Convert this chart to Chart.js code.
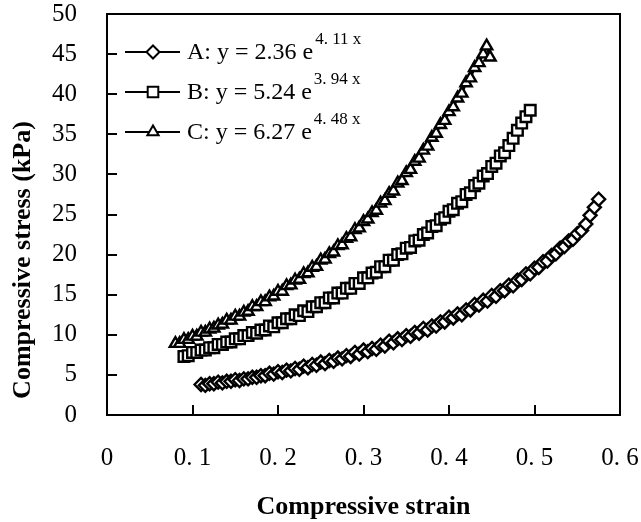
<!DOCTYPE html>
<html>
<head>
<meta charset="utf-8">
<script src="https://cdn.jsdelivr.net/npm/chart.js@4.4.1/dist/chart.umd.min.js"></script>
<style>
  html, body { margin: 0; padding: 0; background: #fff; }
</style>
</head>
<body>
<canvas id="myChart" width="641" height="522"></canvas>
<script>
// sample A (diamonds)
const strainA = [0.11,0.115,0.12,0.125,0.13,0.135,0.14,0.145,0.15,0.155,0.16,0.165,0.17,0.175,0.18,0.185,0.19,0.195,0.20,0.205,
  0.21,0.215,0.22,0.225,0.23,0.235,0.24,0.245,0.25,0.255,0.26,0.265,0.27,0.275,0.28,0.285,0.29,0.295,0.30,0.305,
  0.31,0.315,0.32,0.325,0.33,0.335,0.34,0.345,0.35,0.355,0.36,0.365,0.37,0.375,0.38,0.385,0.39,0.395,0.40,0.405,
  0.41,0.415,0.42,0.425,0.43,0.435,0.44,0.445,0.45,0.455,0.46,0.465,0.47,0.475,0.48,0.485,0.49,0.495,0.50,0.505,
  0.51,0.515,0.52,0.525,0.53,0.535,0.54,0.545,0.55,0.555,0.56,0.565,0.57,0.575];
const stressA = [3.8,3.7,3.9,3.9,4.1,4.0,4.2,4.2,4.4,4.3,4.5,4.5,4.7,4.7,4.9,4.9,5.2,5.1,5.4,5.3,
  5.6,5.5,5.8,5.7,6.1,5.9,6.3,6.2,6.6,6.4,6.8,6.7,7.1,7.0,7.4,7.3,7.8,7.6,8.1,7.9,
  8.3,8.2,8.7,8.6,9.2,9.0,9.5,9.4,9.9,9.8,10.3,10.2,10.8,10.6,11.1,11.1,11.6,11.6,12.2,12.1,
  12.6,12.5,13.1,13.1,13.8,13.7,14.3,14.2,14.9,14.8,15.5,15.5,16.2,16.1,16.8,16.9,17.6,17.6,18.3,18.4,
  19.1,19.2,19.9,20.1,20.8,21.0,21.7,21.9,22.6,23.0,23.8,24.9,25.9,26.9];

// sample B (squares)
const strainB = [0.09,0.095,0.10,0.105,0.11,0.115,0.12,0.125,0.13,0.135,0.14,0.145,0.15,0.155,0.16,0.165,0.17,0.175,0.18,0.185,
  0.19,0.195,0.20,0.205,0.21,0.215,0.22,0.225,0.23,0.235,0.24,0.245,0.25,0.255,0.26,0.265,0.27,0.275,0.28,0.285,
  0.29,0.295,0.30,0.305,0.31,0.315,0.32,0.325,0.33,0.335,0.34,0.345,0.35,0.355,0.36,0.365,0.37,0.375,0.38,0.385,
  0.39,0.395,0.40,0.405,0.41,0.415,0.42,0.425,0.43,0.435,0.44,0.445,0.45,0.455,0.46,0.465,0.47,0.475,0.48,0.485,
  0.49,0.495];
const stressB = [7.3,7.4,7.8,7.8,8.1,8.1,8.4,8.4,8.8,8.8,9.1,9.1,9.5,9.5,9.9,9.9,10.3,10.2,10.6,10.6,
  11.1,11.0,11.5,11.5,12.0,12.0,12.5,12.4,13.0,12.9,13.5,13.5,14.0,14.0,14.6,14.6,15.2,15.2,15.8,15.8,
  16.4,16.4,17.1,17.1,17.7,17.8,18.5,18.5,19.3,19.3,20.0,20.1,20.8,20.9,21.7,21.8,22.5,22.7,23.5,23.6,
  24.4,24.6,25.4,25.6,26.4,26.6,27.5,27.7,28.6,28.9,29.8,30.1,31.0,31.4,32.3,32.7,33.6,34.5,35.5,36.4,
  37.2,38.0];

// sample C (triangles)
const strainC = [0.08,0.085,0.09,0.095,0.10,0.105,0.11,0.115,0.12,0.125,0.13,0.135,0.14,0.145,0.15,0.155,0.16,0.165,0.17,0.175,
  0.18,0.185,0.19,0.195,0.20,0.205,0.21,0.215,0.22,0.225,0.23,0.235,0.24,0.245,0.25,0.255,0.26,0.265,0.27,0.275,
  0.28,0.285,0.29,0.295,0.30,0.305,0.31,0.315,0.32,0.325,0.33,0.335,0.34,0.345,0.35,0.355,0.36,0.365,0.37,0.375,
  0.38,0.385,0.39,0.395,0.40,0.405,0.41,0.415,0.42,0.425,0.43,0.435,0.44,0.444,0.448];
const stressC = [8.9,8.9,9.4,9.4,9.8,9.8,10.3,10.3,10.7,10.8,11.2,11.3,11.8,11.8,12.3,12.3,12.8,12.9,13.5,13.5,
  14.1,14.1,14.7,14.8,15.4,15.4,16.1,16.2,16.8,16.9,17.6,17.7,18.4,18.5,19.3,19.4,20.1,20.3,21.1,21.2,
  22.0,22.2,23.1,23.3,24.1,24.4,25.2,25.5,26.4,26.7,27.6,27.9,28.9,29.2,30.2,30.6,31.6,32.0,33.0,33.5,
  34.6,35.1,36.2,36.7,37.8,38.4,39.5,40.1,41.4,42.0,43.3,43.9,45.0,46.0,44.6];

const legendMain = ['A: y = 2.36 e', 'B: y = 5.24 e', 'C: y = 6.27 e'];
const legendSup = ['4. 11 x', '3. 94 x', '4. 48 x'];
const xTicks = [0, 0.1, 0.2, 0.3, 0.4, 0.5, 0.6];
const yTicks = [0, 5, 10, 15, 20, 25, 30, 35, 40, 45, 50];

const SERIF = '"Liberation Serif", "DejaVu Serif", serif';
Chart.defaults.font.family = SERIF;
Chart.defaults.color = '#000';

function pts(xs, ys) {
  return xs.map((v, i) => ({ x: v, y: ys[i] }));
}

function series(label, xs, ys, style, r) {
  return {
    label: label,
    data: pts(xs, ys),
    pointStyle: style,
    pointRadius: r,
    pointBorderWidth: 2.4,
    pointBackgroundColor: '#fff',
    pointBorderColor: '#000',
    borderColor: '#000',
    borderWidth: 2.5,
    tension: 0,
    clip: false
  };
}

// box, inward ticks, axis titles and the legend with superscripts
const decor = {
  id: 'decor',
  afterDraw(chart) {
    const ctx = chart.ctx;
    const a = chart.chartArea;
    const x = chart.scales.x, y = chart.scales.y;
    ctx.save();
    ctx.strokeStyle = '#000';
    ctx.lineWidth = 2;
    ctx.strokeRect(a.left, a.top, a.right - a.left, a.bottom - a.top);
    ctx.beginPath();
    xTicks.forEach(v => {
      const px = Math.round(x.getPixelForValue(v));
      ctx.moveTo(px, a.bottom);
      ctx.lineTo(px, a.bottom - 10);
    });
    yTicks.forEach(v => {
      const py = Math.round(y.getPixelForValue(v));
      ctx.moveTo(a.left, py);
      ctx.lineTo(a.left + 10, py);
    });
    ctx.stroke();

    // axis titles
    ctx.fillStyle = '#000';
    ctx.font = 'bold 26px ' + SERIF;
    ctx.textAlign = 'center';
    ctx.textBaseline = 'middle';
    ctx.fillText('Compressive strain', (a.left + a.right) / 2, 507);
    ctx.save();
    ctx.translate(23, 260);
    ctx.rotate(-Math.PI / 2);
    ctx.fillText('Compressive stress (kPa)', 0, 0);
    ctx.restore();

    // legend
    const rows = [52, 92, 132];
    chart.data.datasets.forEach((ds, i) => {
      const ly = rows[i];
      ctx.lineWidth = 2;
      ctx.beginPath();
      ctx.moveTo(125, ly);
      ctx.lineTo(180, ly);
      ctx.stroke();
      ctx.fillStyle = '#fff';
      ctx.lineWidth = 2;
      Chart.helpers.drawPoint(ctx, { pointStyle: ds.pointStyle, radius: ds.pointRadius, rotation: 0, borderWidth: 2 }, 153, ly);
      ctx.fillStyle = '#000';
      ctx.textAlign = 'left';
      ctx.textBaseline = 'alphabetic';
      ctx.font = '24px ' + SERIF;
      ctx.fillText(legendMain[i], 187, ly + 7);
      const w = ctx.measureText(legendMain[i]).width;
      ctx.font = '17px ' + SERIF;
      ctx.fillText(legendSup[i], 187 + w + 2, ly - 8);
    });
    ctx.restore();
  }
};

const ctx = document.getElementById('myChart').getContext('2d');
const myChart = new Chart(ctx, {
  type: 'line',
  data: {
    datasets: [
      series('A', strainA, stressA, 'rectRot', 6.5),
      series('B', strainB, stressB, 'rect', 7.5),
      series('C', strainC, stressC, 'triangle', 6.5)
    ]
  },
  options: {
    responsive: false,
    animation: false,
    layout: { padding: 0, autoPadding: false },
    plugins: {
      legend: { display: false },
      tooltip: { enabled: false }
    },
    scales: {
      x: {
        type: 'linear',
        min: 0,
        max: 0.6,
        grid: { display: false, drawTicks: false },
        border: { display: false },
        ticks: {
          stepSize: 0.1,
          padding: 28,
          font: { size: 25 },
          maxRotation: 0,
          callback: v => v === 0 ? '0' : v.toFixed(1).replace('.', '. ')
        },
        afterFit: s => {
          s.height = 107;
          s.paddingLeft = 0;
          s.paddingRight = 21;
        }
      },
      y: {
        min: 0,
        max: 50,
        grid: { display: false, drawTicks: false },
        border: { display: false },
        ticks: { stepSize: 5, padding: 30, font: { size: 25 } },
        afterFit: s => {
          s.width = 107;
          s.paddingTop = 14;
          s.paddingBottom = 0;
        }
      }
    }
  },
  plugins: [decor]
});
</script>
</body>
</html>
